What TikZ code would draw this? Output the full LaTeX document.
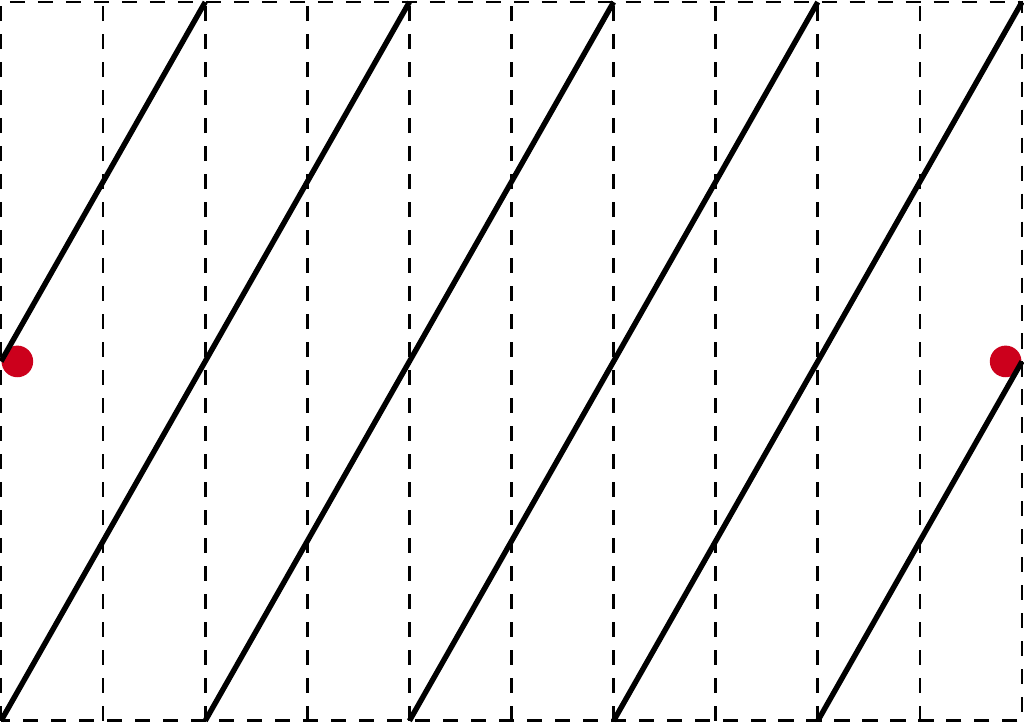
\documentclass[tikz,border=0pt]{standalone}
\usepackage{color}
\usepackage{tikz}
\definecolor{myblack}{rgb}{0.000,0.000,0.000}
\definecolor{myred}{rgb}{0.800,0.000,0.110}
\tikzstyle{grid}=[draw=myblack,dash pattern=on 4.2pt off 3.6pt,line width=0.75pt]
\tikzstyle{strand}=[draw=myblack,line width=1.5pt]
\tikzstyle{point}=[circle,fill=myred,inner sep=0pt,minimum size=0.31cm]

\begin{document}
\begin{tikzpicture}
	\useasboundingbox (-0.01,-0.03) rectangle (10.02,7.06);
	% corners and ends
	\coordinate (0) at (0,0);
	\coordinate (1) at (10,7.04);
	\coordinate (2) at (0,3.52);
	\coordinate (3) at (10,3.52);
	\foreach \i in {0,2,4,6,8,10} {
		\coordinate (b\i) at (\i,0);
		\coordinate (t\i) at (\i,7.04);
	}
	% dots
	\node [style=point] (4) at (0.16,3.52) {};
	\node [style=point] (5) at (9.84,3.52) {};
	% grid
	\draw [style=grid] (0) rectangle (1);
	\foreach \i in {1,...,9}
		\draw [style=grid] (\i,0) -- (\i,7.04);
	% strands
	\draw [style=strand] (2) -- (t2);
	\draw [style=strand] (b0) -- (t4);
	\draw [style=strand] (b2) -- (t6);
	\draw [style=strand] (b4) -- (t8);
	\draw [style=strand] (b6) -- (t10);
	\draw [style=strand] (b8) -- (3);
\end{tikzpicture}
\end{document}
